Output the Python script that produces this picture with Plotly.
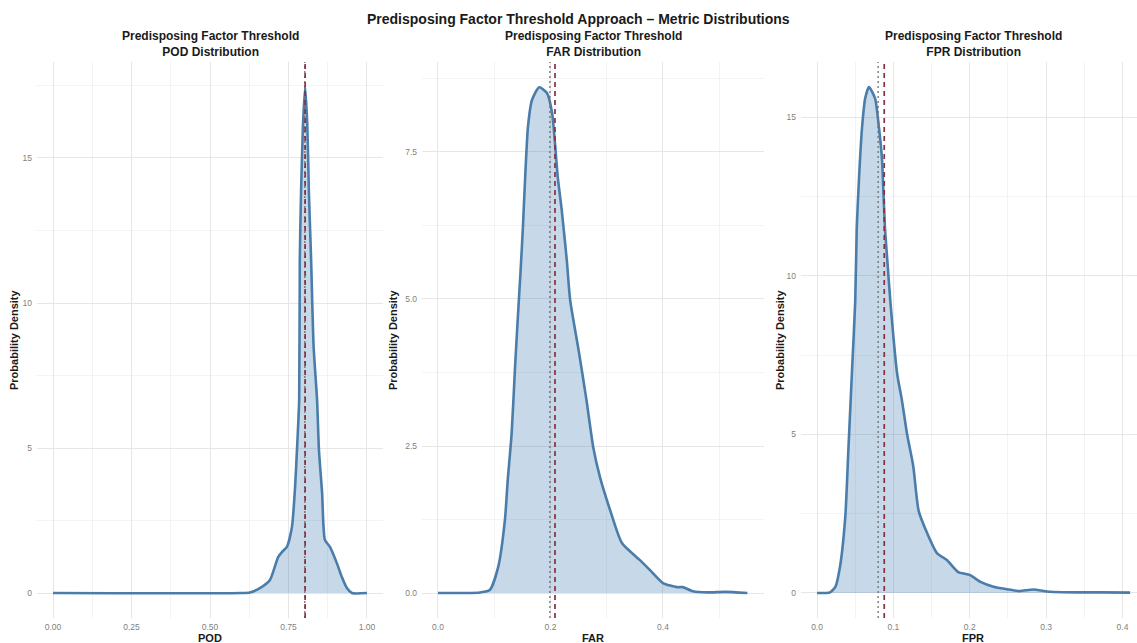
import plotly.graph_objects as go

W, H = 1137, 643

# Density estimates for each verification metric
pod_x = [0.0, 0.60, 0.627, 0.659, 0.691, 0.717, 0.729, 0.745, 0.761, 0.771, 0.777, 0.784,
         0.786, 0.790, 0.796, 0.803, 0.810, 0.815, 0.822, 0.830, 0.841, 0.847, 0.857, 0.866,
         0.882, 0.904, 0.920, 0.936, 0.952, 1.0]
pod_density = [0.0, 0.0, 0.02, 0.17, 0.45, 1.24, 1.41, 1.59, 2.28, 3.66, 4.93, 6.66,
               11.5, 13.8, 16.1, 17.45, 16.1, 13.8, 11.5, 8.5, 6.66, 4.93, 3.45, 1.83,
               1.59, 1.03, 0.55, 0.17, 0.0, 0.0]

far_x = [0.0, 0.05, 0.075, 0.092, 0.107, 0.119, 0.124, 0.131, 0.137, 0.142, 0.147, 0.151,
         0.155, 0.160, 0.167, 0.180, 0.194, 0.203, 0.208, 0.213, 0.220, 0.229, 0.235, 0.250,
         0.264, 0.276, 0.288, 0.306, 0.327, 0.359, 0.377, 0.400, 0.425, 0.435, 0.453, 0.48,
         0.51, 0.55]
far_density = [0.0, 0.0, 0.01, 0.05, 0.44, 1.24, 1.92, 2.72, 3.84, 4.69, 5.5, 6.22,
               7.07, 7.93, 8.38, 8.6, 8.5, 8.16, 7.65, 7.07, 6.51, 5.66, 4.98, 4.13,
               3.28, 2.48, 1.97, 1.41, 0.85, 0.56, 0.39, 0.17, 0.10, 0.10, 0.03, 0.01,
               0.02, 0.0]

fpr_x = [0.0, 0.012, 0.017, 0.024, 0.030, 0.037, 0.041, 0.046, 0.050, 0.052, 0.055, 0.059,
         0.063, 0.068, 0.076, 0.081, 0.085, 0.087, 0.089, 0.092, 0.096, 0.105, 0.111, 0.118,
         0.126, 0.133, 0.144, 0.157, 0.170, 0.185, 0.200, 0.214, 0.231, 0.249, 0.265, 0.283,
         0.305, 0.34, 0.37, 0.41]
fpr_density = [0.0, 0.0, 0.02, 0.19, 0.82, 2.4, 4.5, 7.1, 9.2, 11.5, 13.1, 14.7,
               15.6, 15.96, 15.6, 14.7, 13.7, 12.6, 11.5, 10.5, 9.2, 6.9, 6.1, 5.0,
               4.0, 2.6, 1.9, 1.26, 1.04, 0.66, 0.57, 0.35, 0.20, 0.12, 0.06, 0.11,
               0.04, 0.02, 0.02, 0.01]

metric_names = ["POD", "FAR", "FPR"]
metric_means = [0.803, 0.208, 0.088]
metric_medians = [0.802, 0.199, 0.080]

x_tickvals = [[0, 0.25, 0.5, 0.75, 1.0], [0.0, 0.2, 0.4], [0.0, 0.1, 0.2, 0.3, 0.4]]
x_ticktext = [["0.00", "0.25", "0.50", "0.75", "1.00"], ["0.0", "0.2", "0.4"],
              ["0.0", "0.1", "0.2", "0.3", "0.4"]]
y_tickvals = [[0, 5, 10, 15], [0.0, 2.5, 5.0, 7.5], [0, 5, 10, 15]]
y_ticktext = [["0", "5", "10", "15"], ["0.0", "2.5", "5.0", "7.5"], ["0", "5", "10", "15"]]

# panel geometry (pixels) and axis ranges
panel_px = [(37, 383), (422, 764), (801, 1137)]
x_ranges = [[-0.051, 1.051], [-0.0284, 0.5796], [-0.021, 0.419]]
x_minor = [0.125, 0.1, 0.05]
y_ranges = [[-0.862, 18.31], [-0.425, 9.03], [-0.789, 16.75]]
y_minor = [2.5, 1.25, 2.5]
title_cx = [210, 593, 973]
ytitle_x = [14, 393, 780]
plot_top, plot_bottom = 62, 618

LINE = "#4A7DAA"
FILL = "rgba(70,130,180,0.30)"
GRID = "#E6E6E6"
GRID_MINOR = "#F3F3F3"
TICK_FONT = dict(family="Liberation Sans, Arial, sans-serif", size=8.5, color="#7F7F7F")
BOLD = "Liberation Sans, Arial, sans-serif"


def px(x):
    return x / W


def py(y):
    return 1 - y / H


fig = go.Figure()
series = [(pod_x, pod_density), (far_x, far_density), (fpr_x, fpr_density)]

layout = {}
annotations = []
shapes = []
for i, (xs, ys) in enumerate(series):
    n = "" if i == 0 else str(i + 1)
    fig.add_trace(go.Scatter(
        x=xs, y=ys, mode="lines", line=dict(color=LINE, width=2.6, shape="spline", smoothing=0.6),
        fill="tozeroy", fillcolor=FILL, xaxis="x" + n, yaxis="y" + n, showlegend=False,
        hoverinfo="x+y",
    ))
    x0, x1 = panel_px[i]
    layout["xaxis" + n] = dict(
        domain=[px(x0), px(x1)], range=x_ranges[i], anchor="y" + n,
        tickvals=x_tickvals[i], ticktext=x_ticktext[i], tickfont=TICK_FONT,
        showgrid=True, gridcolor=GRID, gridwidth=1, zeroline=False, showline=False,
        ticks="", ticklabelstandoff=2,
        minor=dict(dtick=x_minor[i], tick0=0, showgrid=True, gridcolor=GRID_MINOR, gridwidth=0.7),
    )
    layout["yaxis" + n] = dict(
        domain=[py(plot_bottom), py(plot_top)], range=y_ranges[i], anchor="x" + n,
        tickvals=y_tickvals[i], ticktext=y_ticktext[i], tickfont=TICK_FONT,
        showgrid=True, gridcolor=GRID, gridwidth=1, zeroline=False, showline=False,
        ticks="", ticklabelstandoff=4,
        minor=dict(dtick=y_minor[i], tick0=0, showgrid=True, gridcolor=GRID_MINOR, gridwidth=0.7),
    )
    # median (dotted) and mean (dashed) reference lines
    shapes.append(dict(type="line", xref="x" + n, yref="y" + n + " domain",
                       x0=metric_medians[i], x1=metric_medians[i], y0=0, y1=1,
                       line=dict(color="#6E6E6E", width=1.3, dash="2px,3px")))
    shapes.append(dict(type="line", xref="x" + n, yref="y" + n + " domain",
                       x0=metric_means[i], x1=metric_means[i], y0=0, y1=1,
                       line=dict(color="#873040", width=1.7, dash="5px,4px")))
    # subplot titles
    annotations.append(dict(
        text="<b>Predisposing Factor Threshold</b><br><b>%s Distribution</b>" % metric_names[i],
        xref="paper", yref="paper", x=px(title_cx[i]), y=py(44), xanchor="center", yanchor="middle",
        showarrow=False, font=dict(family=BOLD, size=12, color="#1A1A1A"), align="center",
    ))
    # axis titles
    annotations.append(dict(
        text="<b>%s</b>" % metric_names[i], xref="paper", yref="paper",
        x=px(title_cx[i]), y=py(637.5), xanchor="center", yanchor="middle", showarrow=False,
        font=dict(family=BOLD, size=11, color="#1A1A1A"),
    ))
    annotations.append(dict(
        text="<b>Probability Density</b>", xref="paper", yref="paper",
        x=px(ytitle_x[i]), y=py((plot_top + plot_bottom) / 2), xanchor="center", yanchor="middle",
        showarrow=False, textangle=-90, font=dict(family=BOLD, size=11, color="#1A1A1A"),
    ))

annotations.append(dict(
    text="<b>Predisposing Factor Threshold Approach – Metric Distributions</b>",
    xref="paper", yref="paper", x=px(578), y=py(19), xanchor="center", yanchor="middle",
    showarrow=False, font=dict(family=BOLD, size=14, color="#1A1A1A"),
))

fig.update_layout(
    width=W, height=H, margin=dict(l=0, r=0, t=0, b=0, autoexpand=False),
    paper_bgcolor="white", plot_bgcolor="white",
    annotations=annotations, shapes=shapes, showlegend=False, **layout,
)

fig.write_html("out.html")
